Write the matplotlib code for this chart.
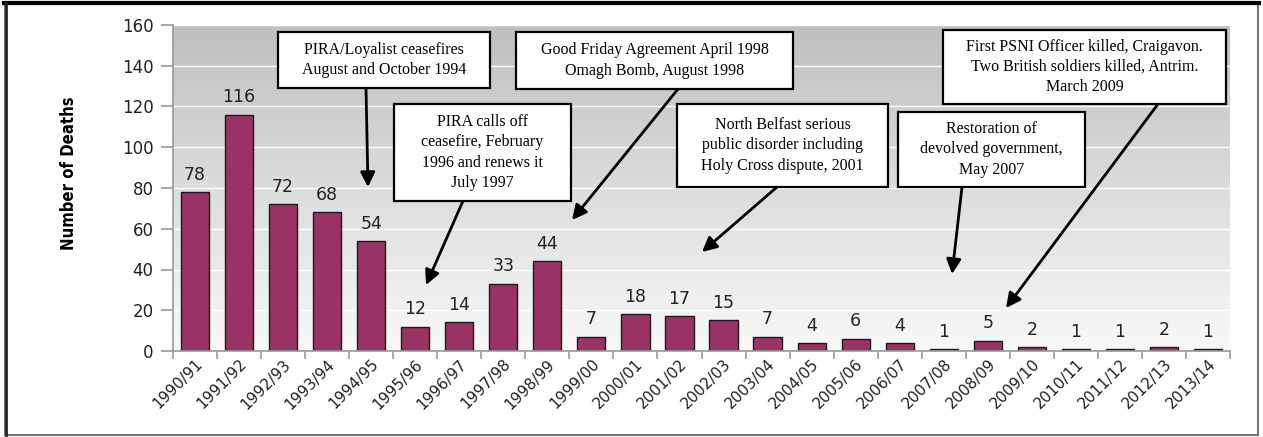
import matplotlib
matplotlib.use("Agg")
import matplotlib.pyplot as plt
import numpy as np
from matplotlib.patches import Rectangle
import matplotlib.transforms as mtransforms

years = ["1990/91", "1991/92", "1992/93", "1993/94", "1994/95", "1995/96", "1996/97",
         "1997/98", "1998/99", "1999/00", "2000/01", "2001/02", "2002/03", "2003/04",
         "2004/05", "2005/06", "2006/07", "2007/08", "2008/09", "2009/10", "2010/11",
         "2011/12", "2012/13", "2013/14"]
deaths = [78, 116, 72, 68, 54, 12, 14, 33, 44, 7, 18, 17, 15, 7, 4, 6, 4, 1, 5, 2, 1, 1, 2, 1]
y_ticks = [0, 20, 40, 60, 80, 100, 120, 140, 160]

notes = [
    "PIRA/Loyalist ceasefires\nAugust and October 1994",
    "PIRA calls off\nceasefire, February\n1996 and renews it\nJuly 1997",
    "Good Friday Agreement April 1998\nOmagh Bomb, August 1998",
    "North Belfast serious\npublic disorder including\nHoly Cross dispute, 2001",
    "Restoration of\ndevolved government,\nMay 2007",
    "First PSNI Officer killed, Craigavon.\nTwo British soldiers killed, Antrim.\nMarch 2009",
]

W, H = 1263, 437
fig = plt.figure(figsize=(W / 100, H / 100), dpi=100)
fig.patch.set_facecolor("white")

L, R, T, B = 173, 1230, 25, 351
ax = fig.add_axes([L / W, 1 - B / H, (R - L) / W, (B - T) / H])

def px(x, y):
    return ((x - L) / (R - L), (B - y) / (B - T))

# gradient background
grad = np.linspace(0, 1, 256).reshape(-1, 1)
top = np.array([0.75, 0.75, 0.75])
bot = np.array([0.975, 0.975, 0.975])
img = top[None, None, :] * (1 - grad[:, :, None]) + bot[None, None, :] * grad[:, :, None]
ax.imshow(img, extent=[0, 1, 0, 1], transform=ax.transAxes, aspect="auto", zorder=0)

x = np.arange(len(years))
ax.set_xlim(-0.5, len(years) - 0.5)
ax.set_ylim(0, 160)
for yt in y_ticks[1:]:
    ax.axhline(yt, color="white", lw=1.0, zorder=1)

ax.bar(x, deaths, width=0.64, color="#993366", edgecolor="#1a1a1a", linewidth=1.0, zorder=2)
for xi, v in zip(x, deaths):
    ax.annotate(str(v), (xi, v), xytext=(0, 6), textcoords="offset points",
                ha="center", va="bottom", fontsize=12.5, color="#222222", zorder=3)

ax.set_yticks(y_ticks)
ax.set_yticklabels([str(t) for t in y_ticks], fontsize=12, color="#222222")
ax.set_xticks(x)
ax.set_xticklabels(years, rotation=45, ha="right", rotation_mode="anchor",
                   fontsize=11, color="#222222")
offset = mtransforms.ScaledTranslation(8 / 100, 0, fig.dpi_scale_trans)
for lab in ax.get_xticklabels():
    lab.set_transform(lab.get_transform() + offset)
ax.set_xticks(np.arange(-0.5, len(years), 1.0), minor=True)
ax.tick_params(axis="x", which="major", length=0, pad=4)
ax.tick_params(axis="x", which="minor", length=6, color="#999999", width=1.2)
ax.tick_params(axis="y", length=9, color="#999999", width=1.2, pad=5)

for s in ["top", "right"]:
    ax.spines[s].set_visible(False)
for s in ["left", "bottom"]:
    ax.spines[s].set_color("#999999")
    ax.spines[s].set_linewidth(1.2)

fig.text(69 / W, 1 - 173 / H, "Number of Deaths", rotation=90, ha="center", va="center",
         fontsize=12, fontweight="bold", fontstretch="condensed",
         family=["DejaVu Sans"])

# annotation boxes: (x0, x1, y0, y1) in pixels, arrow start, arrow tip
boxes = [
    (278, 490, 32, 88, (366, 88), (368, 187)),
    (394, 571, 104, 201, (463, 201), (426, 285)),
    (516, 793, 32, 89, (678, 89), (572, 220)),
    (677, 888, 104, 187, (777, 187), (702, 252)),
    (898, 1085, 112, 187, (962, 187), (952, 274)),
    (943, 1226, 30, 104, (1158, 104), (1006, 308)),
]
for txt, (x0, x1, y0, y1, st, tip) in zip(notes, boxes):
    ax0, ay1 = px(x0, y1)
    ax1_, ay0 = px(x1, y0)
    rect = Rectangle((ax0, ay1), ax1_ - ax0, ay0 - ay1, transform=ax.transAxes,
                     facecolor="white", edgecolor="black", lw=1.6, zorder=5, clip_on=False)
    ax.add_patch(rect)
    cx, cy = px((x0 + x1) / 2, (y0 + y1) / 2)
    ax.text(cx, cy, txt, transform=ax.transAxes, ha="center", va="center",
            fontsize=11.5, family="Liberation Serif", linespacing=1.36, zorder=6)
    ax.annotate("", xy=px(*tip), xytext=px(*st), xycoords="axes fraction",
                textcoords="axes fraction",
                arrowprops=dict(arrowstyle="-|>", mutation_scale=22, lw=2.0,
                                color="black", shrinkA=0, shrinkB=0), zorder=4)

# outer frame
fig.add_artist(Rectangle((5 / W, 2 / H), (1258 - 5) / W, (433 - 2) / H,
                         transform=fig.transFigure, fill=False, edgecolor="#777777", lw=1.5))
fig.add_artist(plt.Line2D([4 / W, 1259 / W], [1 - 3 / H, 1 - 3 / H],
                          transform=fig.transFigure, color="black", lw=3))
fig.add_artist(plt.Line2D([6 / W, 6 / W], [2 / H, 1 - 3 / H],
                          transform=fig.transFigure, color="#222222", lw=2))

fig.savefig("out.png", dpi=100)
